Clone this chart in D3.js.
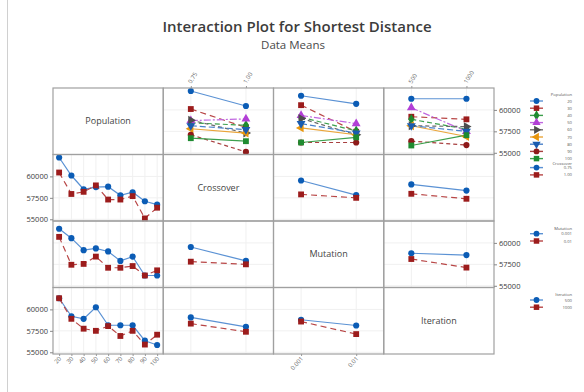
<!DOCTYPE html>
<html>
<head>
<meta charset="utf-8">
<script src="https://cdn.jsdelivr.net/npm/d3@7"></script>
<style>
  body { margin: 0; background: #fff; }
  text { font-family: "Open Sans", sans-serif; }
</style>
</head>
<body>
<div id="chart"></div>
<script>
const WIDTH = 584;
const HEIGHT = 392;

const factors = ['Population', 'Crossover', 'Mutation', 'Iteration'];
const popLevels = ['20', '30', '40', '50', '60', '70', '80', '90', '100'];
const crossLevels = ['0.75', '1.00'];
const mutLevels = ['0.001', '0.01'];
const iterLevels = ['500', '1000'];
const yTicks = [55000, 57500, 60000];

// rows = population level, columns = crossover level
const popCrossMeans = [[62200, 60450], [60100, 57950], [58500, 58200], [58750, 58950], [58800, 57300],
  [57800, 57300], [58150, 57700], [57100, 55100], [56700, 56350]];
// rows = population level, columns = mutation level
const popMutMeans = [[61650, 60700], [60550, 57450], [59150, 57550], [59350, 58400], [59000, 57100],
  [57900, 57100], [58400, 57300], [56200, 56200], [56200, 56800]];
// rows = population level, columns = iteration level
const popIterMeans = [[61300, 61300], [59200, 58900], [58900, 57750], [60250, 57500], [58150, 58050],
  [58150, 56900], [58150, 57500], [56350, 55900], [55850, 57050]];
const crossMutMeans = [[59520, 57810], [57900, 57500]];
const crossIterMeans = [[59060, 58340], [57970, 57390]];
const mutIterMeans = [[58790, 58580], [58120, 57120]];

const levels = [popLevels, crossLevels, mutLevels, iterLevels];
const pairMeans = {
  '0-1': popCrossMeans, '0-2': popMutMeans, '0-3': popIterMeans,
  '1-2': crossMutMeans, '1-3': crossIterMeans, '2-3': mutIterMeans,
};

function means(r, c) {
  if (r < c) return pairMeans[`${r}-${c}`];
  return d3.transpose(pairMeans[`${c}-${r}`]);
}

const styles = [
  { color: '#0b5cb5', line: '#5b92d4', symbol: d3.symbolCircle, rot: 0, dash: null },
  { color: '#9c1c1c', line: '#b84646', symbol: d3.symbolSquare, rot: 0, dash: '6,4' },
  { color: '#1e8b30', line: '#3c9f4c', symbol: d3.symbolDiamond, rot: 0, dash: '5,3' },
  { color: '#b23fd6', line: '#c067e0', symbol: d3.symbolTriangle, rot: 0, dash: '7,2,2,2' },
  { color: '#4d4d4d', line: '#6a6a6a', symbol: d3.symbolTriangle, rot: 90, dash: '4,3' },
  { color: '#e8960c', line: '#eaa53a', symbol: d3.symbolTriangle, rot: -90, dash: null },
  { color: '#1a5cb0', line: '#4a80c8', symbol: d3.symbolTriangle, rot: 180, dash: '6,3' },
  { color: '#8e1a1a', line: '#a84040', symbol: d3.symbolCircle, rot: 0, dash: '4,3' },
  { color: '#1e8b30', line: '#3c9f4c', symbol: d3.symbolSquare, rot: 0, dash: null },
];

const grid = { left: 53, top: 88, cw: 110.25, ch: 66.5 };
const n = factors.length;

const svg = d3.select('#chart').append('svg')
  .attr('width', WIDTH).attr('height', HEIGHT);

// outer frame line on the left
svg.append('line')
  .attr('x1', 7.5).attr('x2', 7.5).attr('y1', 0).attr('y2', HEIGHT)
  .attr('stroke', '#d0d0d0');

svg.append('text')
  .attr('x', 297).attr('y', 32)
  .attr('text-anchor', 'middle')
  .attr('font-size', 15).attr('font-weight', 600).attr('fill', '#3c3c3c')
  .text('Interaction Plot for Shortest Distance');
svg.append('text')
  .attr('x', 293).attr('y', 49)
  .attr('text-anchor', 'middle')
  .attr('font-size', 11.5).attr('fill', '#4a4a4a')
  .text('Data Means');

const xScales = levels.map((lv, c) => d3.scalePoint()
  .domain(lv)
  .range([grid.left + c * grid.cw, grid.left + (c + 1) * grid.cw])
  .padding(0.5));
const yScales = factors.map((f, r) => d3.scaleLinear()
  .domain([54800, 62550])
  .range([grid.top + (r + 1) * grid.ch, grid.top + r * grid.ch]));

function symbolPath(st, size) {
  return d3.symbol().type(st.symbol).size(size)();
}

for (let r = 0; r < n; r++) {
  for (let c = 0; c < n; c++) {
    const x = xScales[c];
    const y = yScales[r];
    const g = svg.append('g');
    if (r === c) {
      g.append('text')
        .attr('x', grid.left + (c + 0.5) * grid.cw)
        .attr('y', grid.top + (r + 0.5) * grid.ch + 3)
        .attr('text-anchor', 'middle')
        .attr('font-size', 9).attr('fill', '#444')
        .text(factors[r]);
      continue;
    }
    // grid lines
    g.selectAll('.vg').data(levels[c]).join('line')
      .attr('x1', (d) => x(d)).attr('x2', (d) => x(d))
      .attr('y1', y.range()[1]).attr('y2', y.range()[0])
      .attr('stroke', '#f0f0f0').attr('stroke-width', 1);
    g.selectAll('.hg').data(yTicks).join('line')
      .attr('x1', x.range()[0]).attr('x2', x.range()[1])
      .attr('y1', (d) => y(d)).attr('y2', (d) => y(d))
      .attr('stroke', '#f0f0f0').attr('stroke-width', 1);

    const M = means(r, c);
    const series = M.map((vals, i) => ({ i, vals }));
    const line = d3.line()
      .x((d, j) => x(levels[c][j]))
      .y((d) => y(d));
    g.selectAll('.ln').data(series).join('path')
      .attr('fill', 'none')
      .attr('stroke', (d) => styles[d.i].line)
      .attr('stroke-width', 1.2)
      .attr('stroke-dasharray', (d) => styles[d.i].dash)
      .attr('d', (d) => line(d.vals));
    series.forEach((s) => {
      const st = styles[s.i];
      g.selectAll(null).data(s.vals).join('path')
        .attr('d', symbolPath(st, st.symbol === d3.symbolCircle ? 30 : 34))
        .attr('fill', st.color)
        .attr('transform', (d, j) => `translate(${x(levels[c][j])},${y(d)}) rotate(${st.rot})`);
    });
  }
}

// panel borders
for (let r = 0; r < n; r++) {
  for (let c = 0; c < n; c++) {
    svg.append('rect')
      .attr('x', grid.left + c * grid.cw).attr('y', grid.top + r * grid.ch)
      .attr('width', grid.cw).attr('height', grid.ch)
      .attr('fill', 'none').attr('stroke', '#a0a0a0').attr('stroke-width', 1.2);
  }
}

// y axes: left for rows 1,3 ; right for rows 0,2
const gridRight = grid.left + n * grid.cw;
const gridBottom = grid.top + n * grid.ch;
yScales.forEach((y, r) => {
  const right = r % 2 === 0;
  const ax = (right ? d3.axisRight(y) : d3.axisLeft(y))
    .tickValues(yTicks).tickSize(3).tickSizeOuter(0).tickPadding(2)
    .tickFormat(d3.format('d'));
  const g = svg.append('g')
    .attr('transform', `translate(${right ? gridRight : grid.left},0)`)
    .call(ax);
  g.select('.domain').remove();
  g.selectAll('line').attr('stroke', '#888');
  g.selectAll('text').attr('font-size', 7.5).attr('fill', '#3a3a3a')
    .attr('font-family', '"Open Sans", sans-serif');
});

// x axes: top for columns 1,3 ; bottom for columns 0,2
xScales.forEach((x, c) => {
  const top = c % 2 === 1;
  const ax = (top ? d3.axisTop(x) : d3.axisBottom(x)).tickSize(2).tickSizeOuter(0);
  const g = svg.append('g')
    .attr('transform', `translate(0,${top ? grid.top : gridBottom})`)
    .call(ax);
  g.select('.domain').remove();
  g.selectAll('line').attr('stroke', '#999');
  const t = g.selectAll('text').attr('font-size', 6).attr('fill', '#666')
    .attr('font-family', '"Open Sans", sans-serif');
  if (top) {
    t.attr('text-anchor', 'start').attr('x', 0).attr('y', 0).attr('dy', 0)
      .attr('transform', 'translate(0,-4) rotate(-58)');
  } else {
    t.attr('text-anchor', 'end').attr('x', 0).attr('y', 0).attr('dy', 0)
      .attr('transform', 'translate(2,5) rotate(-48)');
  }
});

// legends
function legend(title, lv, titleY, firstY, step) {
  const g = svg.append('g');
  g.append('text').attr('x', 572).attr('y', titleY + 1.5)
    .attr('text-anchor', 'end').attr('font-size', 4.2).attr('fill', '#555')
    .text(title);
  lv.forEach((l, i) => {
    const st = styles[i];
    const yy = firstY + i * step;
    g.append('line').attr('x1', 530).attr('x2', 543).attr('y1', yy).attr('y2', yy)
      .attr('stroke', st.line).attr('stroke-width', 1.4);
    g.append('path')
      .attr('d', symbolPath(st, st.symbol === d3.symbolCircle ? 26 : 30))
      .attr('fill', st.color)
      .attr('transform', `translate(536.5,${yy}) rotate(${st.rot})`);
    g.append('text').attr('x', 572).attr('y', yy + 1.5)
      .attr('text-anchor', 'end').attr('font-size', 4.2).attr('fill', '#555')
      .text(l);
  });
}
legend('Population', popLevels, 94, 101, 7.2);
legend('Crossover', crossLevels, 163, 167.6, 7.3);
legend('Mutation', mutLevels, 228, 233.7, 7.3);
legend('Iteration', iterLevels, 294, 300, 7.2);
</script>
</body>
</html>
